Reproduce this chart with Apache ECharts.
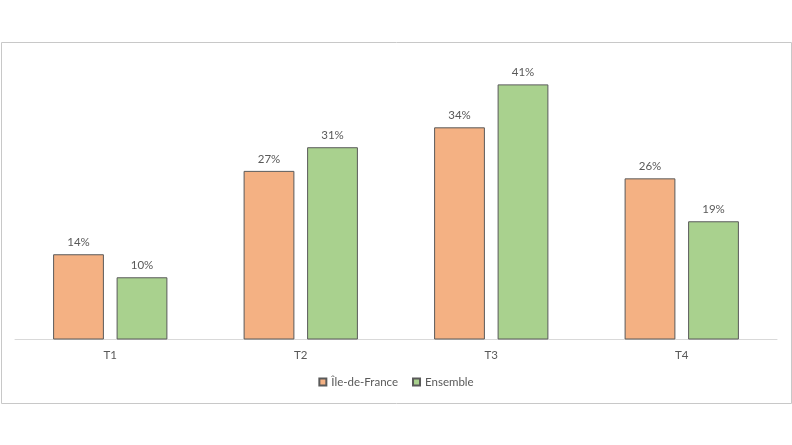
<!DOCTYPE html>
<html><head><meta charset="utf-8">
<script src="https://cdn.jsdelivr.net/npm/echarts@6/dist/echarts.min.js"></script>
<style>html,body{margin:0;padding:0;background:#fff}#c{width:792px;height:445px}</style>
</head><body><div id="c"></div>
<script>
var categories = ['T1', 'T2', 'T3', 'T4'];
var idfValues = [13.7, 27.1, 34.1, 25.9];
var ensembleValues = [10.0, 30.9, 41.0, 19.0];
var seriesNames = ['Île-de-France', 'Ensemble'];

var chart = echarts.init(document.getElementById('c'));
var font = 'Lato, "Open Sans", sans-serif';
var labelCfg = {
  show: true, position: 'top', distance: 6, color: '#595959', fontSize: 11.5, fontFamily: font,
  formatter: function (p) { return Math.round(p.value) + '%'; }
};
chart.setOption({
  animation: false,
  graphic: [{
    type: 'rect', left: 1, top: 42, z: -1,
    shape: { width: 790, height: 361 },
    style: { fill: '#fff', stroke: '#c8c8c8', lineWidth: 1 }
  }],
  grid: { left: 15, right: 15, top: 59.5, bottom: 105.5 },
  legend: {
    data: seriesNames, bottom: 52, left: 'center', itemWidth: 7, itemHeight: 7, itemGap: 14,
    textStyle: { color: '#595959', fontSize: 11.5, fontFamily: font },
    icon: 'rect'
  },
  xAxis: {
    type: 'category', data: categories,
    axisLine: { lineStyle: { color: '#d9d9d9', width: 1 } },
    axisTick: { show: false },
    axisLabel: { color: '#595959', fontSize: 11.5, fontFamily: font, margin: 10 }
  },
  yAxis: { type: 'value', min: 0, max: 45, show: false, splitLine: { show: false } },
  series: [
    { name: seriesNames[0], type: 'bar', data: idfValues, barGap: '25%', barCategoryGap: '40%',
      itemStyle: { color: '#F4B183', borderColor: '#5a5a5a', borderWidth: 1 }, label: labelCfg },
    { name: seriesNames[1], type: 'bar', data: ensembleValues,
      itemStyle: { color: '#A9D18E', borderColor: '#5a5a5a', borderWidth: 1 }, label: labelCfg }
  ]
});
</script></body></html>
